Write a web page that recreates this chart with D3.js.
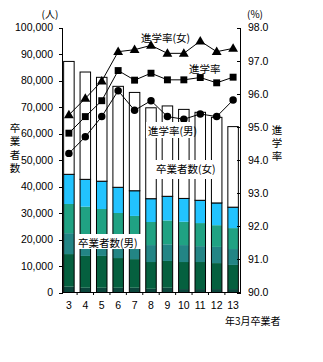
<!DOCTYPE html>
<html>
<head>
<meta charset="utf-8">
<script src="https://cdn.jsdelivr.net/npm/d3@7"></script>
<style>
  html, body { margin: 0; padding: 0; background: #fff; }
  svg text { font-family: "Noto Sans CJK JP", "Noto Sans", sans-serif; fill: #000; }
  svg .num text, svg text.num { font-family: "Liberation Sans", Arial, sans-serif; }
</style>
</head>
<body>
<svg id="chart" width="323" height="362"></svg>
<script>
// Graduation years (March graduates)
const years = ["3", "4", "5", "6", "7", "8", "9", "10", "11", "12", "13"];

// Male graduates broken down into five groups (bottom to top), persons
const maleA = [2200, 1800, 1800, 1800, 1800, 1400, 1800, 1300, 1300, 1300, 1300];
const maleB = [12300, 12000, 12000, 11200, 10800, 10100, 10100, 10200, 10200, 9800, 9100];
const maleC = [7900, 7000, 6500, 6500, 6400, 6400, 6300, 6400, 6000, 6100, 6000];
const maleD = [11000, 11600, 11200, 10500, 9900, 8700, 9000, 8800, 8700, 8200, 7900];
const maleE = [11200, 10300, 10500, 9700, 9500, 8800, 9100, 8800, 8600, 8400, 7900];
// Female graduates, persons
const female = [42600, 40500, 39200, 38100, 37100, 34300, 34100, 33600, 33200, 32300, 30400];

// Advancement rates (%)
const rateFemale = [95.36, 95.86, 96.38, 97.27, 97.33, 97.46, 97.22, 97.22, 97.59, 97.27, 97.37];
const rateTotal  = [94.81, 95.31, 95.79, 96.70, 96.41, 96.62, 96.42, 96.42, 96.49, 96.33, 96.50];
const rateMale   = [94.20, 94.70, 95.31, 96.09, 95.50, 95.79, 95.31, 95.23, 95.39, 95.31, 95.81];

const leftTicks = [0, 10000, 20000, 30000, 40000, 50000, 60000, 70000, 80000, 90000, 100000];
const rightTicks = [90, 91, 92, 93, 94, 95, 96, 97, 98];

const maleColors = ["#0b463c", "#05603f", "#238585", "#20a283", "#22c3fe"];

const svg = d3.select("#chart");
const x0 = 62, x1 = 240, yBottom = 292.5, yTop = 27.5;

const x = d3.scaleBand().domain(years).range([x0, x1]).paddingInner(0.36).paddingOuter(0.1);
const y = d3.scaleLinear().domain([0, 100000]).range([yBottom, yTop]);
const yr = d3.scaleLinear().domain([90, 98]).range([yBottom, yTop]);

// Stacked bars
const rows = years.map((yv, i) => ({ year: yv, a: maleA[i], b: maleB[i], c: maleC[i], d: maleD[i], e: maleE[i], f: female[i] }));
const keys = ["a", "b", "c", "d", "e"];
const stack = d3.stack().keys(keys)(rows);
const maleTotal = d => d.a + d.b + d.c + d.d + d.e;

const bars = svg.append("g");
stack.forEach((layer, li) => {
  bars.selectAll(null).data(layer).enter().append("rect")
    .attr("x", d => x(d.data.year))
    .attr("width", x.bandwidth())
    .attr("y", d => y(d[1]))
    .attr("height", d => y(d[0]) - y(d[1]))
    .attr("fill", maleColors[li]);
});
// Outline of male total
bars.selectAll(null).data(rows).enter().append("rect")
  .attr("x", d => x(d.year))
  .attr("width", x.bandwidth())
  .attr("y", d => y(maleTotal(d)))
  .attr("height", d => yBottom - y(maleTotal(d)))
  .attr("fill", "none").attr("stroke", "#000").attr("stroke-width", 1);
// Female segment (white) on top
bars.selectAll(null).data(rows).enter().append("rect")
  .attr("x", d => x(d.year))
  .attr("width", x.bandwidth())
  .attr("y", d => y(maleTotal(d) + d.f))
  .attr("height", d => y(maleTotal(d)) - y(maleTotal(d) + d.f))
  .attr("fill", "#fff").attr("stroke", "#000").attr("stroke-width", 1);

// Axes
const fs = "10.5px";
const gl = svg.append("g").attr("class", "num").attr("transform", `translate(${x0},0)`)
  .call(d3.axisLeft(y).tickValues(leftTicks).tickFormat(d3.format(",")).tickSizeOuter(0).tickSize(3));
gl.selectAll("text").style("font-size", fs).attr("x", -9);
const gr = svg.append("g").attr("class", "num").attr("transform", `translate(${x1},0)`)
  .call(d3.axisRight(yr).tickValues(rightTicks).tickFormat(d3.format(".1f")).tickSizeOuter(0).tickSize(-3));
gr.selectAll("text").style("font-size", fs).attr("x", 8);
const gb = svg.append("g").attr("class", "num").attr("transform", `translate(0,${yBottom})`)
  .call(d3.axisBottom(x).tickSize(0).tickSizeOuter(0));
gb.selectAll("text").style("font-size", fs).attr("y", 9);
gb.select(".domain").attr("d", `M${x0},0H${x1}`);
// small separators between categories on the baseline
svg.append("g").selectAll("line").data(years.slice(1)).enter().append("line")
  .attr("x1", d => x(d) - x.step() * x.paddingInner() / 2)
  .attr("x2", d => x(d) - x.step() * x.paddingInner() / 2)
  .attr("y1", yBottom).attr("y2", yBottom + 2.5)
  .attr("stroke", "#000");
[gl, gr, gb].forEach(g => g.selectAll("path,line").attr("stroke", "#000").attr("shape-rendering", "crispEdges"));

// Rate lines
const lineGen = arr => d3.line().x((v, i) => x(years[i]) + x.bandwidth() / 2).y(v => yr(v))(arr);
const lines = svg.append("g");
[rateMale, rateTotal, rateFemale].forEach(arr => {
  lines.append("path").attr("d", lineGen(arr)).attr("fill", "none").attr("stroke", "#000").attr("stroke-width", 1);
});
const sym = (type, size) => d3.symbol().type(type).size(size)();
const marks = [[rateFemale, d3.symbolTriangle, 42], [rateTotal, d3.symbolSquare, 48], [rateMale, d3.symbolCircle, 44]];
marks.forEach(([arr, t, s]) => {
  lines.selectAll(null).data(arr).enter().append("path")
    .attr("d", sym(t, s))
    .attr("transform", (v, i) => `translate(${x(years[i]) + x.bandwidth() / 2},${yr(v) + (t === d3.symbolTriangle ? 0.5 : 0)})`)
    .attr("fill", "#000");
});

// Labels
const lab = svg.append("g").style("font-size", "10.5px");
function boxLabel(txt, bx, by, bw, bh, tx, ty) {
  lab.append("rect").attr("x", bx).attr("y", by).attr("width", bw).attr("height", bh).attr("fill", "#fff");
  lab.append("text").attr("x", tx).attr("y", ty).attr("dominant-baseline", "central").text(txt);
}
lab.append("text").attr("x", 141).attr("y", 37).attr("dominant-baseline", "central").text("進学率(女)");
lab.append("text").attr("x", 189).attr("y", 68).attr("dominant-baseline", "central").text("進学率");
boxLabel("進学率(男)", 146, 122, 48, 16, 148, 130);
boxLabel("卒業者数(女)", 151, 160, 63, 19, 156, 168);
boxLabel("卒業者数(男)", 75, 234, 66, 15, 78, 242);

// Units
lab.append("text").attr("x", 50).attr("y", 13.5).attr("text-anchor", "middle").attr("dominant-baseline", "central")
  .style("font-size", "10px").text("(人)");
lab.append("text").attr("x", 255).attr("y", 13).attr("text-anchor", "middle").attr("dominant-baseline", "central")
  .style("font-size", "10px").text("(%)");

// Vertical axis titles
lab.append("text").attr("x", 15).attr("y", 122.5)
  .style("writing-mode", "vertical-rl").style("letter-spacing", "3px").style("font-size", "10.5px")
  .text("卒業者数");
lab.append("text").attr("x", 277).attr("y", 125)
  .style("writing-mode", "vertical-rl").style("letter-spacing", "2.5px").style("font-size", "10.5px")
  .text("進学率");

lab.append("text").attr("x", 225).attr("y", 320).attr("dominant-baseline", "central")
  .style("font-size", "10px").text("年3月卒業者");
</script>
</body>
</html>
